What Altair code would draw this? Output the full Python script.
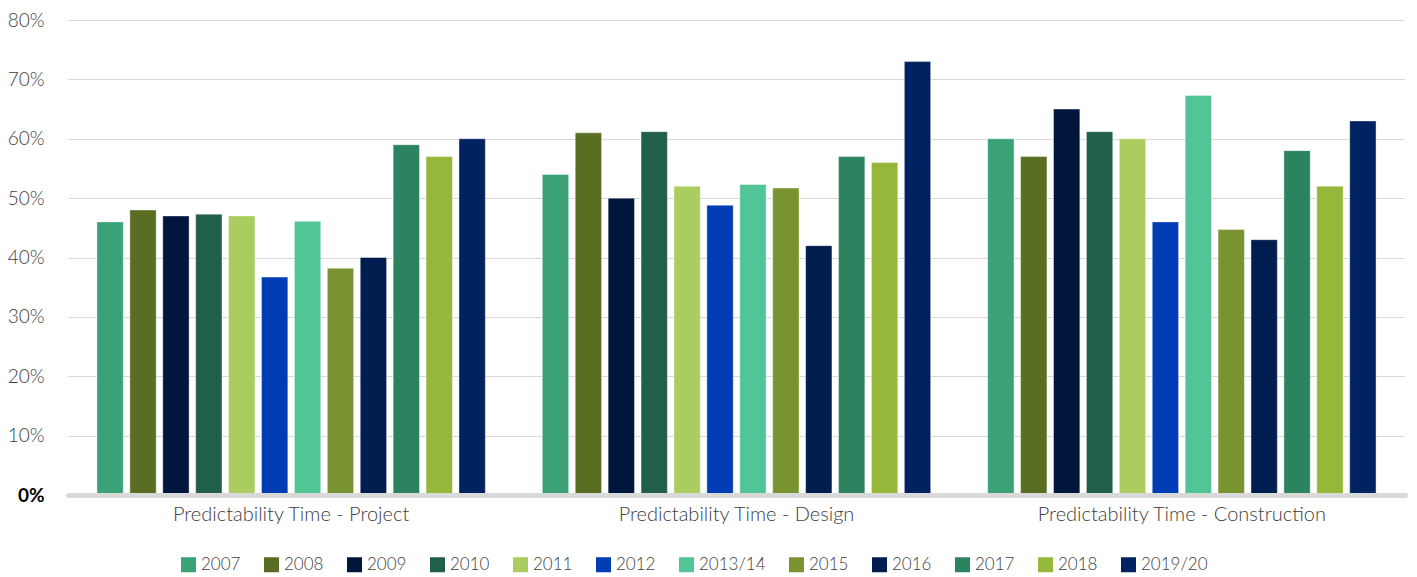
import altair as alt
import pandas as pd

groups = ["Predictability Time - Project", "Predictability Time - Design", "Predictability Time - Construction"]
years = ["2007", "2008", "2009", "2010", "2011", "2012", "2013/14", "2015", "2016", "2017", "2018", "2019/20"]
project = [46, 48, 47, 47.3, 47, 36.7, 46.1, 38.2, 40, 59, 57, 60]
design = [54, 61, 50, 61.2, 52, 48.8, 52.3, 51.7, 42, 57, 56, 73]
construction = [60, 57, 65, 61.2, 60, 46, 67.3, 44.7, 43, 58, 52, 63]
colors = ["#3AA276", "#5A6E23", "#00163D", "#215F48", "#ABCC5E", "#003CB4",
          "#52C596", "#789330", "#001D4F", "#2C8360", "#95B73A", "#002260"]
ticks = [0, 0.1, 0.2, 0.3, 0.4, 0.5, 0.6, 0.7, 0.8]

rows = []
for g, vals in zip(groups, [project, design, construction]):
    for y, v in zip(years, vals):
        rows.append({"group": g, "year": y, "value": v / 100})
df = pd.DataFrame(rows)

FONT = "Lato"

chart = alt.Chart(df).mark_bar(stroke="white", strokeOpacity=0.4, strokeWidth=1).encode(
    x=alt.X("group:N", sort=groups, title=None,
            scale=alt.Scale(paddingInner=0.128, paddingOuter=0.065),
            axis=alt.Axis(labelAngle=0, domainWidth=5, domainColor="#d9d9d9", domainCap="round",
                          ticks=False, labelFontSize=20, labelPadding=9, labelColor="#404040",
                          labelFont=FONT, labelFontWeight=300, labelLimit=0, zindex=1)),
    xOffset=alt.XOffset("year:N", sort=years,
                        scale=alt.Scale(paddingInner=0.2, paddingOuter=0)),
    y=alt.Y("value:Q", title=None, scale=alt.Scale(domain=[0, 0.8], nice=False),
            axis=alt.Axis(values=ticks, format=".0%", domain=False, ticks=False,
                          gridColor="#d9d9d9", gridWidth=1.2, labelFontSize=19,
                          labelPadding=24, labelFont=FONT,
                          labelFontWeight=alt.ExprRef("datum.value == 0 ? 700 : 300"),
                          labelColor=alt.ExprRef("datum.value == 0 ? '#000000' : '#404040'"))),
    color=alt.Color("year:N", sort=years, title=None,
                    scale=alt.Scale(domain=years, range=colors),
                    legend=alt.Legend(orient="none", legendX=112, legendY=536, direction="horizontal",
                                      columns=12, symbolType="square", symbolSize=225,
                                      symbolStrokeWidth=0, labelFontSize=17, labelFont=FONT,
                                      labelFontWeight=300, labelColor="#404040",
                                      columnPadding=22, labelOffset=4)),
).properties(
    width=1337, height=475,
    autosize=alt.AutoSizeParams(type="none"),
    padding={"left": 60, "top": 12, "right": 4, "bottom": 80},
).configure_view(stroke=None)

chart.save("out.html", embed_options={"renderer": "svg", "actions": False})
